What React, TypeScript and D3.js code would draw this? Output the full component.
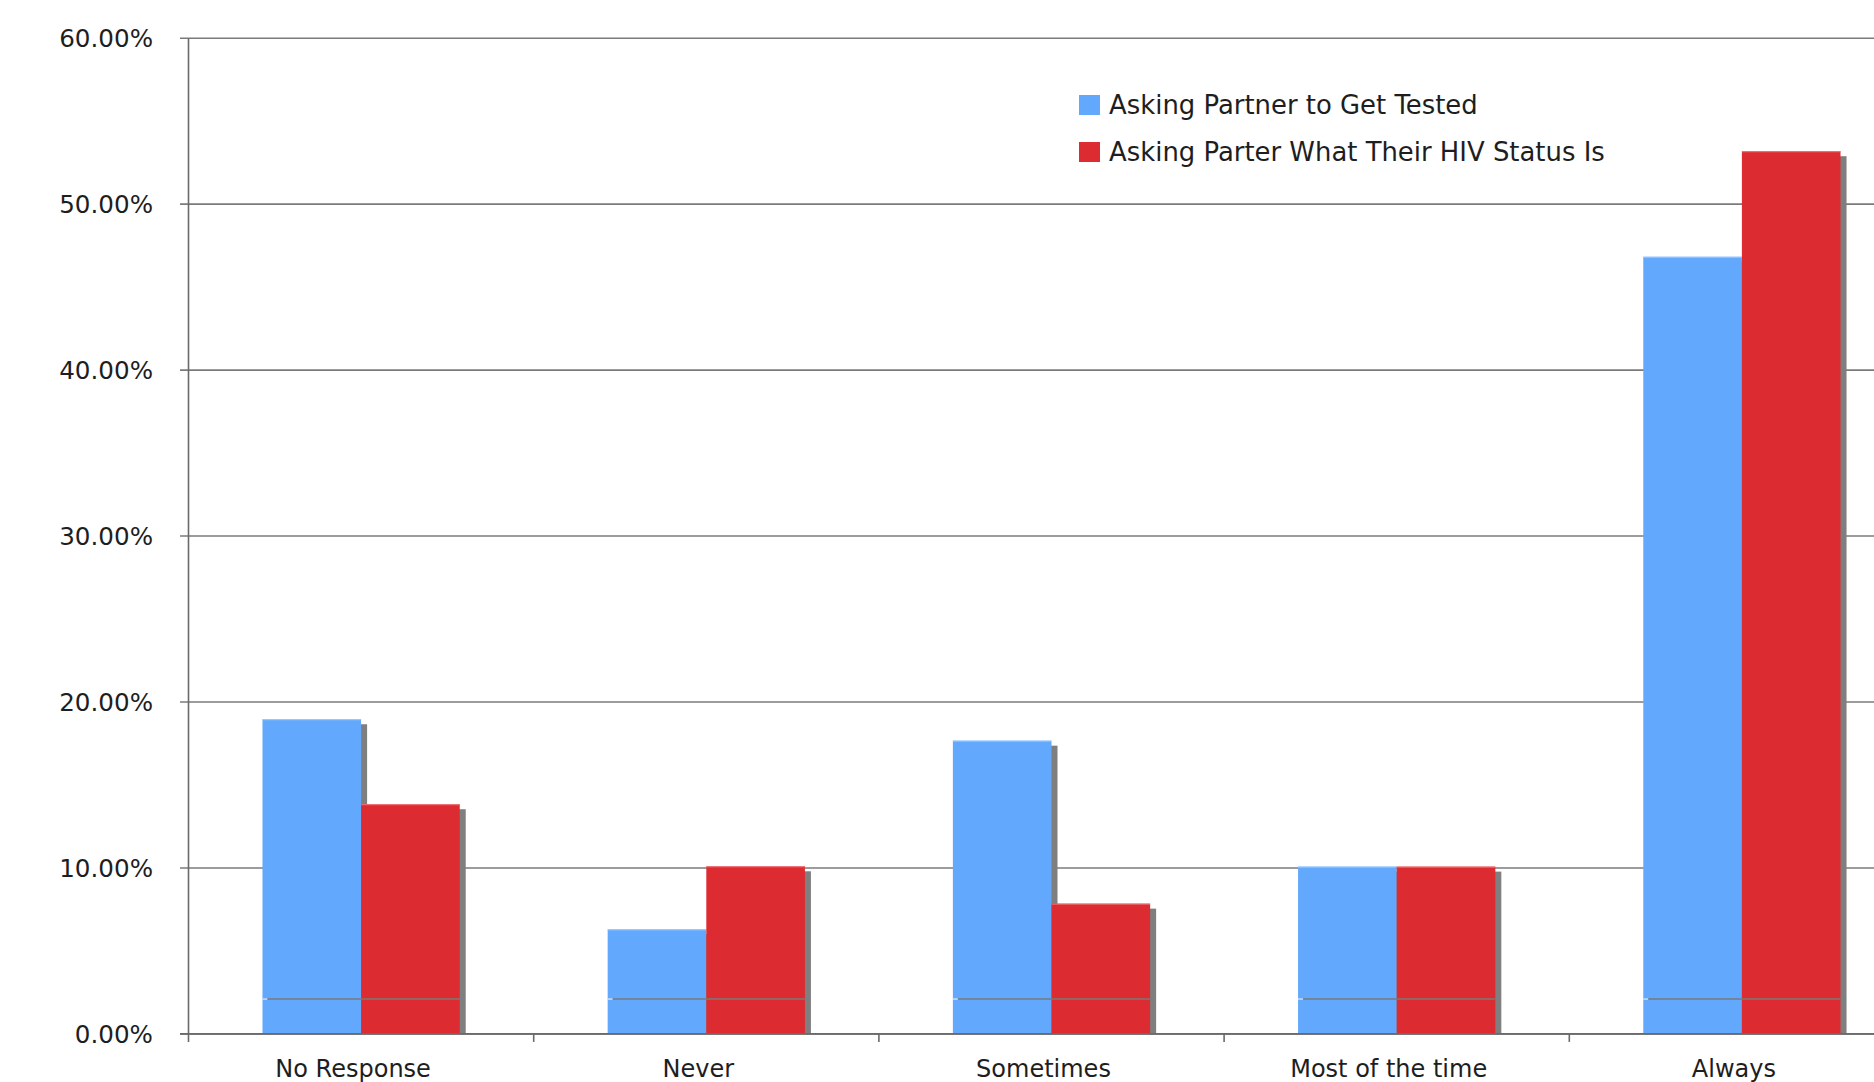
import React from "react";
import * as d3 from "d3";

// Response categories along the x axis
const categories = ["No Response", "Never", "Sometimes", "Most of the time", "Always"];

// Series names (legend order)
const seriesNames = [
  "Asking Partner to Get Tested",
  "Asking Parter What Their HIV Status Is",
];

// Share of respondents per category, one array per series
const askTestedValues = [0.1896, 0.0630, 0.1767, 0.1008, 0.4683];
const askStatusValues = [0.1384, 0.1010, 0.0785, 0.1008, 0.5319];

// Y axis tick values
const yTicks = [0, 0.1, 0.2, 0.3, 0.4, 0.5, 0.6];

// Floor line level drawn across each bar pair
const floorLevel = 0.021;

const seriesColors = ["#62a8fc", "#dc2c32"];
const seriesTopEdge = ["#9ccaff", "#f0767a"];

const W = 1874;
const H = 1082;
const FONT = "'DejaVu Sans', Verdana, sans-serif";

export default function App() {
  const left = 188.5;
  const step = 345.2;
  const top = 38.2;
  const bottom = 1033.9;

  const x = d3
    .scaleBand<string>()
    .domain(categories)
    .range([left, left + step * categories.length])
    .paddingInner(0)
    .paddingOuter(0);

  const xs = d3
    .scaleBand<string>()
    .domain(seriesNames)
    .range([0, x.bandwidth()])
    .paddingInner(0)
    .paddingOuter(0.75);

  const y = d3.scaleLinear().domain([0, 0.6]).range([bottom, top]);
  const fmt = d3.format(".2%");

  const seriesValues = [askTestedValues, askStatusValues];
  const shadowDx = 6;
  const shadowDy = 5;

  const catBoundaries = categories.map((c) => x(c) as number).slice(1);

  return (
    <div style={{ position: "fixed", left: 0, top: 0 }}>
      <svg width={W} height={H} style={{ display: "block", background: "#fff" }}>
        <defs>
          <clipPath id="plotClip">
            <rect x={left} y={0} width={W - left} height={bottom} />
          </clipPath>
        </defs>

        {/* horizontal gridlines and y ticks */}
        {yTicks.map((t) => (
          <g key={t}>
            <line
              x1={180}
              x2={W}
              y1={y(t)}
              y2={y(t)}
              stroke="#7b7b7b"
              strokeWidth={1.6}
            />
            <text
              x={153}
              y={y(t)}
              dy="0.36em"
              textAnchor="end"
              fontFamily={FONT}
              fontSize={24.6}
              fill="#1e1e1e"
            >
              {fmt(t)}
            </text>
          </g>
        ))}

        {/* y axis line */}
        <line x1={left} x2={left} y1={top} y2={bottom + 8} stroke="#6a6a6a" strokeWidth={1.6} />

        {/* category tick marks */}
        {catBoundaries.map((bx, i) => (
          <line key={i} x1={bx} x2={bx} y1={bottom} y2={bottom + 8} stroke="#6a6a6a" strokeWidth={1.6} />
        ))}

        {/* bar shadows */}
        <g clipPath="url(#plotClip)">
          {categories.map((c, ci) =>
            seriesNames.map((s, si) => {
              const v = seriesValues[si][ci];
              const bx = (x(c) as number) + (xs(s) as number);
              return (
                <rect
                  key={`sh-${c}-${s}`}
                  x={bx + shadowDx}
                  y={y(v) + shadowDy}
                  width={xs.bandwidth()}
                  height={Math.max(0, bottom - y(v) - shadowDy)}
                  fill="#7f7f7f"
                />
              );
            })
          )}
        </g>

        {/* bars */}
        {categories.map((c, ci) =>
          seriesNames.map((s, si) => {
            const v = seriesValues[si][ci];
            const bx = (x(c) as number) + (xs(s) as number);
            return (
              <g key={`bar-${c}-${s}`}>
                <rect
                  x={bx}
                  y={y(v)}
                  width={xs.bandwidth()}
                  height={bottom - y(v)}
                  fill={seriesColors[si]}
                />
                <line
                  x1={bx}
                  x2={bx + xs.bandwidth()}
                  y1={y(v) + 0.5}
                  y2={y(v) + 0.5}
                  stroke={seriesTopEdge[si]}
                  strokeWidth={1}
                />
              </g>
            );
          })
        )}

        {/* floor line across each bar pair */}
        {categories.map((c) => {
          const x0 = (x(c) as number) + (xs(seriesNames[0]) as number);
          const x1 = (x(c) as number) + (xs(seriesNames[1]) as number) + xs.bandwidth();
          return (
            <g key={`fl-${c}`}>
              <line x1={x0} x2={x0 + 5} y1={y(floorLevel)} y2={y(floorLevel)} stroke="#cfe4ff" strokeWidth={1.4} />
              <line x1={x0 + 5} x2={x1} y1={y(floorLevel)} y2={y(floorLevel)} stroke="#7a7a7a" strokeWidth={1.4} />
            </g>
          );
        })}

        {/* baseline */}
        <line x1={180} x2={W} y1={bottom} y2={bottom} stroke="#6a6a6a" strokeWidth={1.6} />

        {/* category labels */}
        {categories.map((c) => (
          <text
            key={`lbl-${c}`}
            x={(x(c) as number) + x.bandwidth() / 2 - 8}
            y={1077}
            textAnchor="middle"
            fontFamily={FONT}
            fontSize={24}
            fill="#1e1e1e"
          >
            {c}
          </text>
        ))}

        {/* legend */}
        {seriesNames.map((s, i) => (
          <g key={`lg-${s}`} transform={`translate(1079, ${95 + i * 47})`}>
            <rect x={0} y={0} width={21} height={20} fill={seriesColors[i]} />
            <text x={30} y={19} fontFamily={FONT} fontSize={25.9} fill="#1e1e1e">
              {s}
            </text>
          </g>
        ))}
      </svg>
    </div>
  );
}
